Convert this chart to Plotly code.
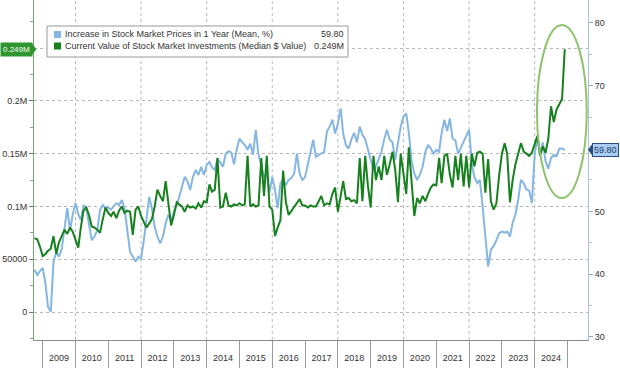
import pandas as pd
import plotly.graph_objects as go

# ---------------- data (monthly, Oct 2008 - Dec 2024) ----------------
start_month = "2008-10-01"
end_month = "2024-12-01"

# Current Value of Stock Market Investments (Median $ Value), in thousands of $
green_2008 = [70, 69, 62]
green_2009 = [53, 55, 58, 60, 72, 55, 66, 72, 78, 74, 80, 76]
green_2010 = [68, 61, 80, 96, 99, 92, 81, 80, 78, 75, 88, 99]
green_2011 = [94, 91, 95, 89, 96, 100, 94, 96, 95, 73, 97, 100]
green_2012 = [91, 86, 80, 84, 88, 100, 116, 110, 105, 124, 100, 82]
green_2013 = [92, 104, 102, 100, 95, 101, 99, 100, 98, 103, 99, 105]
green_2014 = [104, 121, 114, 116, 146, 99, 100, 113, 101, 100, 102, 101]
green_2015 = [103, 101, 102, 148, 100, 102, 100, 101, 146, 110, 148, 100]
green_2016 = [97, 72, 80, 87, 134, 104, 92, 96, 100, 103, 107, 101]
green_2017 = [101, 99, 101, 100, 100, 105, 110, 101, 103, 102, 112, 118]
green_2018 = [95, 110, 124, 107, 108, 105, 106, 103, 146, 105, 148, 120]
green_2019 = [99, 148, 125, 138, 125, 148, 130, 140, 152, 135, 104, 150]
green_2020 = [130, 112, 156, 120, 91, 108, 103, 110, 105, 112, 118, 121]
green_2021 = [120, 146, 122, 148, 150, 130, 118, 148, 125, 150, 119, 148]
green_2022 = [118, 150, 138, 151, 152, 150, 113, 145, 105, 97, 103, 129]
green_2023 = [150, 160, 150, 104, 125, 140, 150, 160, 152, 150, 148, 151]
green_2024 = [160, 167, 148, 157, 151, 164, 195, 180, 192, 197, 202, 249]

# Increase in Stock Market Prices in 1 Year (Mean, %)
blue_2008 = [40.7, 39.9, 40.5]
blue_2009 = [41.0, 38.5, 34.8, 34.0, 42.0, 43.5, 42.8, 44.0, 47.5, 50.5, 47.0, 49.5]
blue_2010 = [51.3, 49.5, 48.6, 51.0, 50.5, 48.0, 45.4, 46.0, 47.0, 50.2, 51.0, 50.5]
blue_2011 = [50.6, 50.3, 50.8, 51.3, 51.0, 51.8, 50.5, 47.0, 43.5, 42.8, 42.0, 42.8]
blue_2012 = [42.5, 45.4, 49.2, 52.3, 50.5, 47.5, 46.0, 44.9, 46.0, 48.1, 49.5, 48.5]
blue_2013 = [50.0, 51.0, 52.3, 53.9, 55.5, 54.8, 53.4, 55.5, 56.6, 55.8, 57.1, 55.8]
blue_2014 = [57.4, 57.9, 57.0, 56.6, 58.4, 57.8, 57.1, 59.2, 59.6, 59.4, 57.5, 59.8]
blue_2015 = [61.6, 61.0, 60.6, 59.8, 60.8, 59.0, 63.0, 59.0, 57.4, 55.5, 56.0, 53.0]
blue_2016 = [55.5, 53.4, 50.5, 54.5, 55.0, 54.2, 55.0, 55.3, 56.0, 59.2, 56.0, 55.0]
blue_2017 = [55.5, 57.5, 59.2, 61.4, 58.7, 59.0, 59.2, 59.5, 62.7, 63.5, 64.6, 62.4]
blue_2018 = [64.0, 66.4, 62.4, 60.5, 60.0, 61.5, 62.5, 61.0, 63.5, 62.2, 61.5, 60.0]
blue_2019 = [58.2, 56.6, 57.2, 58.3, 59.5, 61.5, 63.0, 61.4, 61.0, 58.2, 60.8, 63.5]
blue_2020 = [65.1, 65.6, 62.5, 58.0, 56.0, 55.0, 55.8, 57.1, 59.5, 60.6, 60.0, 59.2]
blue_2021 = [59.8, 59.5, 62.5, 64.6, 62.8, 64.8, 61.6, 61.3, 59.2, 60.2, 61.0, 62.0]
blue_2022 = [63.0, 57.5, 55.5, 54.5, 55.0, 50.7, 46.0, 41.2, 43.9, 44.5, 45.4, 46.5]
blue_2023 = [46.8, 46.6, 46.8, 46.0, 48.2, 49.5, 51.8, 55.0, 54.5, 53.5, 53.3, 51.3]
blue_2024 = [59.0, 61.9, 59.2, 61.0, 58.0, 56.8, 58.5, 59.0, 58.8, 60.0, 60.0, 59.8]

years = list(range(2009, 2025))
year_labels = [str(y) for y in years]
left_tick_vals = [0, 50000, 100000, 150000, 200000, 250000]
left_tick_text = ["0", "50000", "0.1M", "0.15M", "0.2M", ""]
right_tick_vals = [30, 40, 50, 60, 70, 80]
right_tick_text = ["30", "40", "50", "", "70", "80"]

name_blue = "Increase in Stock Market Prices in 1 Year (Mean, %)"
name_green = "Current Value of Stock Market Investments (Median $ Value)"
last_blue_text = "59.80"
last_green_text = "0.249M"

# ---------------- assemble ----------------
dates = pd.date_range(start_month, end_month, freq="MS")
green_k = (green_2008 + green_2009 + green_2010 + green_2011 + green_2012 + green_2013 +
           green_2014 + green_2015 + green_2016 + green_2017 + green_2018 + green_2019 +
           green_2020 + green_2021 + green_2022 + green_2023 + green_2024)
green = [v * 1000 for v in green_k]
blue = (blue_2008 + blue_2009 + blue_2010 + blue_2011 + blue_2012 + blue_2013 +
        blue_2014 + blue_2015 + blue_2016 + blue_2017 + blue_2018 + blue_2019 +
        blue_2020 + blue_2021 + blue_2022 + blue_2023 + blue_2024)

# ---------------- styling / layout helpers ----------------
W, H = 620, 368
ML, MR, MT, MB = 34, 32, 0, 28
PW, PH = W - ML - MR, H - MT - MB


def pxx(px):
    return (px - ML) / PW


def pxy(py):
    return (H - MB - py) / PH


FONT = "Liberation Sans"
GREEN = "#17801f"
BLUE = "#86b6e2"
GRID = "#b8b8b8"
TXT = "#333333"

fig = go.Figure()
fig.add_trace(go.Scatter(x=dates, y=blue, mode="lines", name=name_blue,
                         line=dict(color=BLUE, width=2), yaxis="y", showlegend=False))
fig.add_trace(go.Scatter(x=dates, y=green, mode="lines", name=name_green,
                         line=dict(color=GREEN, width=2), yaxis="y2", showlegend=False))

x_range = ["2008-09-26", "2025-08-17"]
mid_year = [f"{y}-07-02" for y in years]
year_starts = [f"{y}-01-01" for y in years + [2025]]

shapes = []
# vertical dotted grid every two years
for y in range(2010, 2025, 2):
    shapes.append(dict(type="line", xref="x", yref="paper", x0=f"{y}-01-01", x1=f"{y}-01-01",
                       y0=0, y1=1, line=dict(color=GRID, width=1, dash="dot"), layer="below"))

# highlight ellipse
shapes.append(dict(type="circle", xref="x", yref="y2", x0="2024-01-27", x1="2025-08-03",
                   y0=108000, y1=272000, line=dict(color="#8cc36c", width=2)))

# legend box
shapes.append(dict(type="rect", xref="paper", yref="paper", x0=pxx(47), x1=pxx(348),
                   y0=pxy(57), y1=pxy(26), fillcolor="white",
                   line=dict(color="#9a9a9a", width=1), layer="above"))
shapes.append(dict(type="rect", xref="paper", yref="paper", x0=pxx(54), x1=pxx(61),
                   y0=pxy(38), y1=pxy(31), fillcolor=BLUE, line=dict(width=0), layer="above"))
shapes.append(dict(type="rect", xref="paper", yref="paper", x0=pxx(54), x1=pxx(61),
                   y0=pxy(49.5), y1=pxy(42.5), fillcolor=GREEN, line=dict(width=0), layer="above"))

# last value tags: arrows
gv = green[-1]
shapes.append(dict(type="path", xref="paper", yref="y2",
                   path=f"M {pxx(32)} {gv + 5200} L {pxx(36.5)} {gv} L {pxx(32)} {gv - 5200} Z",
                   fillcolor="#2f952f", line=dict(width=0)))
bv = blue[-1]
shapes.append(dict(type="path", xref="paper", yref="y",
                   path=f"M {pxx(592.5)} {bv + 1.0} L {pxx(588)} {bv} L {pxx(592.5)} {bv - 1.0} Z",
                   fillcolor="#2b4f80", line=dict(width=0)))

annotations = [
    dict(xref="paper", yref="paper", x=pxx(63), y=pxy(34.5), xanchor="left", yanchor="middle",
         text=name_blue, showarrow=False, font=dict(family=FONT, size=9, color=TXT)),
    dict(xref="paper", yref="paper", x=pxx(346), y=pxy(34.5), xanchor="right", yanchor="middle",
         text=last_blue_text, showarrow=False, font=dict(family=FONT, size=9, color=TXT)),
    dict(xref="paper", yref="paper", x=pxx(63), y=pxy(46), xanchor="left", yanchor="middle",
         text=name_green, showarrow=False, font=dict(family=FONT, size=9, color=TXT)),
    dict(xref="paper", yref="paper", x=pxx(346), y=pxy(46), xanchor="right", yanchor="middle",
         text=last_green_text, showarrow=False, font=dict(family=FONT, size=9, color=TXT)),
    dict(xref="paper", yref="y2", x=pxx(32.5), y=gv, xanchor="right", yanchor="middle",
         text=last_green_text, showarrow=False, bgcolor="#2f952f", borderpad=2,
         font=dict(family=FONT, size=8, color="white")),
    dict(xref="paper", yref="y", x=pxx(592), y=bv, xanchor="left", yanchor="middle",
         text=last_blue_text, showarrow=False, bgcolor="#a9cdf0", bordercolor="#2b4f80",
         borderwidth=1, borderpad=1, font=dict(family=FONT, size=9, color="#1d3a66")),
]

fig.update_layout(
    width=W, height=H,
    margin=dict(l=ML, r=MR, t=MT, b=MB, pad=0),
    paper_bgcolor="white", plot_bgcolor="white",
    showlegend=False,
    font=dict(family=FONT, size=9, color=TXT),
    xaxis=dict(
        type="date", range=x_range,
        tickmode="array", tickvals=mid_year, ticktext=year_labels,
        ticks="", showgrid=False, zeroline=False,
        showline=True, linecolor="#8a8a8a", linewidth=1,
        ticklabelstandoff=9,
        tickfont=dict(family=FONT, size=9, color=TXT),
        minor=dict(tickmode="array", tickvals=year_starts, ticks="outside",
                   ticklen=28, tickcolor="#9a9a9a", tickwidth=1, showgrid=False),
    ),
    yaxis=dict(
        side="right", range=[29.52, 83.66],
        tickmode="array", tickvals=right_tick_vals, ticktext=right_tick_text,
        ticks="outside", ticklen=4, tickcolor="#8fa9c0",
        showline=True, linecolor="#a9c2d8", linewidth=1,
        showgrid=False, zeroline=False,
        tickfont=dict(family=FONT, size=9, color=TXT),
        minor=dict(tickmode="linear", tick0=0, dtick=5, ticks="outside",
                   ticklen=3, tickcolor="#a9c2d8"),
    ),
    yaxis2=dict(
        side="left", overlaying="y", range=[-26540, 295700],
        tickmode="array", tickvals=left_tick_vals, ticktext=left_tick_text,
        ticks="outside", ticklen=4, tickcolor="#777777",
        showline=True, linecolor="#74a874", linewidth=1,
        showgrid=True, gridcolor=GRID, griddash="dot", gridwidth=1,
        zeroline=False,
        tickfont=dict(family=FONT, size=9, color=TXT),
        minor=dict(tickmode="linear", tick0=0, dtick=25000, ticks="outside",
                   ticklen=3, tickcolor="#999999"),
    ),
    shapes=shapes,
    annotations=annotations,
)

fig.write_html("out.html",
               config={"displayModeBar": False},
               post_script="document.body.style.margin='0';document.body.style.overflow='hidden';")
